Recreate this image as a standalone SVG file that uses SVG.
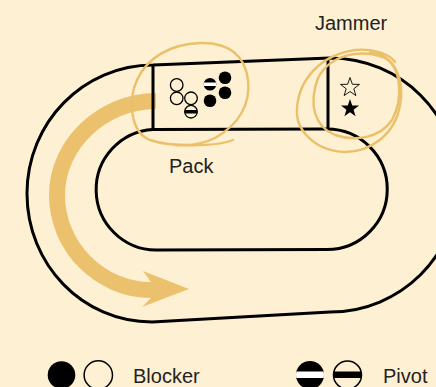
<svg xmlns="http://www.w3.org/2000/svg" width="436" height="387" viewBox="0 0 436 387">
  <style>
    .track { fill: none; stroke: #000; stroke-width: 3; stroke-linejoin: round; }
    .loop { fill: none; stroke: #ebc06a; stroke-width: 2.4; stroke-linecap: round; }
    .label { font-family: "Liberation Sans", Arial, sans-serif; font-size: 20px; fill: #222; }
    .open { fill: #fef0d2; stroke: #000; stroke-width: 1.3; }
    .black { fill: #000; }
  </style>
  <defs>
    <clipPath id="cp1"><circle cx="191" cy="111.7" r="6.3"/></clipPath>
    <clipPath id="cp2"><circle cx="210" cy="84.3" r="6.3"/></clipPath>
    <clipPath id="cp3"><circle cx="310" cy="375" r="14"/></clipPath>
    <clipPath id="cp4"><circle cx="347.5" cy="375" r="14"/></clipPath>
    <polygon id="star" points="0,-10 2.35,-3.24 9.51,-3.09 3.8,1.24 5.88,8.09 0,4 -5.88,8.09 -3.8,1.24 -9.51,-3.09 -2.35,-3.24"/>
  </defs>
  <rect x="0" y="0" width="436" height="387" fill="#fef0d2"/>

  <g id="track">
    <path class="track" d="M153,65 L330,58 C400.7,58 458,114.9 458,185 C458,255.1 400.7,312 330,312 L152,322 C82.4,322 27,264.5 27,193.5 C27,122.5 83.4,65 153,65 Z"/>
    <path class="track" d="M153,129.5 L327,129 A60.25,60.25 0 0 1 327,249.5 L156,250 A60.3,60.3 0 0 1 153,129.5 Z"/>
  </g>

  <g id="connectors">
    <path d="M156,101 C103.5,101 57,143.5 57,195 C57,247.5 100.5,290 151,290" fill="none" stroke="#ecc16e" stroke-width="16"/>
    <polygon points="189,289 143,271 151,282 151,298 142,307" fill="#ecc16e"/>
  </g>

  <g id="pack">
    <line x1="153" y1="65" x2="153" y2="129.5" stroke="#000" stroke-width="3"/>
    <circle class="open" cx="176.7" cy="85" r="6.3"/>
    <circle class="open" cx="176.7" cy="98.3" r="6.3"/>
    <circle class="open" cx="191" cy="98.3" r="6.3"/>
    <circle class="open" cx="191" cy="111.7" r="6.3"/>
    <rect x="184" y="110" width="14" height="3.5" fill="#000" clip-path="url(#cp1)"/>
    <circle class="black" cx="210" cy="84.3" r="6.3"/>
    <rect x="203" y="82.5" width="14" height="3.5" fill="#fff" clip-path="url(#cp2)"/>
    <circle class="black" cx="225" cy="77.7" r="6.3"/>
    <circle class="black" cx="225" cy="92.7" r="6.3"/>
    <circle class="black" cx="210" cy="100.7" r="6.3"/>
    <path class="loop" d="M233,140 C215,147 170,147 150,140 C130,132 128,100 137,80 C147,58 170,44 200,43 C228,42 245,55 248,80 C251,105 238,125 215,138 C205,143 190,146 175,145"/>
    <text class="label" x="169" y="173">Pack</text>
  </g>

  <g id="jammer">
    <line x1="328" y1="58" x2="328" y2="129" stroke="#000" stroke-width="3"/>
    <use href="#star" transform="translate(350,87.5)" fill="none" stroke="#000" stroke-width="0.9"/>
    <use href="#star" transform="translate(350,108.5) scale(0.95)" fill="#000"/>
    <path class="loop" d="M370,52 C395,55 405,80 400,105 C395,135 370,152 345,152 C315,151 295,130 297,108 C299,80 320,55 355,50 C375,48 390,55 395,62"/>
    <path class="loop" d="M318,78 C330,55 360,48 385,58 C402,68 403,100 392,120 C380,138 355,142 335,135 C315,127 308,105 318,78"/>
    <text class="label" x="315" y="30">Jammer</text>
  </g>

  <g id="legend-blocker">
    <circle class="black" cx="61.5" cy="375" r="13.8"/>
    <circle cx="98.3" cy="375" r="14.2" fill="#fef0d2" stroke="#000" stroke-width="1.5"/>
    <text class="label" x="133" y="383">Blocker</text>
  </g>

  <g id="legend-pivot">
    <circle class="black" cx="310" cy="375" r="14"/>
    <rect x="294" y="371.5" width="32" height="6.5" fill="#fff" clip-path="url(#cp3)"/>
    <circle cx="347.5" cy="375" r="14" fill="#fef0d2" stroke="#000" stroke-width="1.5"/>
    <rect x="332" y="371.5" width="32" height="6.5" fill="#000" clip-path="url(#cp4)"/>
    <text class="label" x="383" y="383">Pivot</text>
  </g>
</svg>
